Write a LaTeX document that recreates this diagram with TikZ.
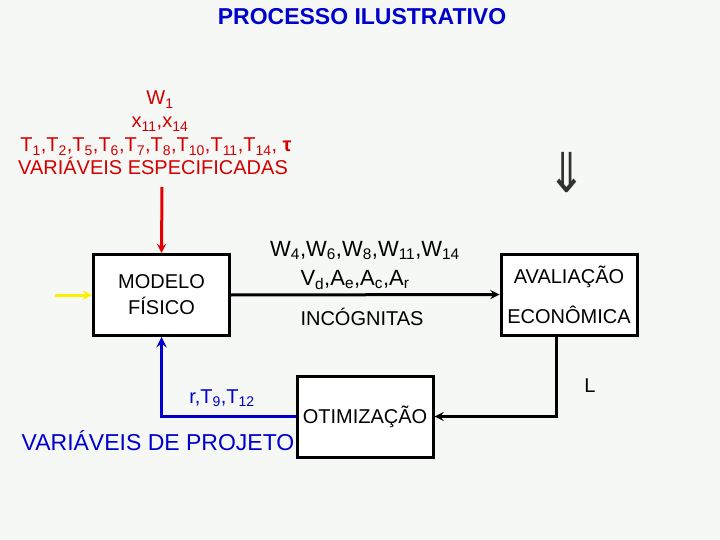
\documentclass[tikz,border=0pt]{standalone}
\usepackage{fontspec}
\setmainfont{Liberation Sans}
\newfontfamily\setasfont{DejaVu Sans}
\definecolor{fundo}{RGB}{246,248,246}
\definecolor{vermelho}{RGB}{212,0,0}
\definecolor{azul}{RGB}{0,0,205}
\definecolor{amarelo}{RGB}{250,240,0}
\definecolor{cinza}{RGB}{50,50,50}
\newcommand{\sbs}[1]{\textsubscript{#1}}
\tikzset{
  caixa/.style={draw, line width=3pt, fill=white, minimum width=136pt,
    minimum height=81pt, inner sep=0pt, align=center,
    font=\fontsize{20}{26}\selectfont},
  rotulo/.style={inner sep=0pt, anchor=base, font=\fontsize{20}{24}\selectfont},
  ligacao/.style={line width=3pt},
}
\begin{document}
\begin{tikzpicture}[x=1pt,y=-1pt,>=stealth]
   % fundo
   \useasboundingbox (0,0) rectangle (720,540);
   \fill[fundo] (0,0) rectangle (720,540);

   % titulo
   \node[rotulo, azul, font=\fontsize{23}{24}\selectfont\bfseries] (titulo) at (362,25) {PROCESSO ILUSTRATIVO};

   % variaveis especificadas
   \node[rotulo, vermelho] (w1) at (160,105) {W\sbs{1}};
   \node[rotulo, vermelho] (x11) at (160,128) {x\sbs{11},x\sbs{14}};
   \node[rotulo, vermelho] (tt) at (156,152) {T\sbs{1},T\sbs{2},T\sbs{5},T\sbs{6},T\sbs{7},T\sbs{8},T\sbs{10},T\sbs{11},T\sbs{14}, \textbf{τ}};
   \node[rotulo, vermelho] (espec) at (153,175) {VARIÁVEIS ESPECIFICADAS};

   % caixas
   \node[caixa] (modelo) at (161.5,295) {MODELO\\FÍSICO};
   \node[caixa] (avaliacao) at (569,294.5) {AVALIAÇÃO\\[14pt]ECONÔMICA};
   \node[caixa] (otimizacao) at (365,416.5) {OTIMIZAÇÃO};

   % incognitas
   \node[rotulo, font=\fontsize{22}{24}\selectfont] (ww) at (365,256) {W\sbs{4},W\sbs{6},W\sbs{8},W\sbs{11},W\sbs{14}};
   \node[rotulo, font=\fontsize{22}{24}\selectfont] (vd) at (355,285) {V\sbs{d},A\sbs{e},A\sbs{c},A\sbs{r}};
   \node[rotulo] (incog) at (362,325) {INCÓGNITAS};
   \node[rotulo] (ll) at (590,392) {L};
   \node[rotulo, cinza, font=\fontsize{44}{44}\setasfont] (seta) at (567,193) {\scalebox{1.05}[1.25]{⇓}};

   % variaveis de projeto
   \node[rotulo, azul] (rt) at (222,403) {r,T\sbs{9},T\sbs{12}};
   \node[rotulo, azul, font=\fontsize{23}{24}\selectfont] (projeto) at (158,450) {VARIÁVEIS DE PROJETO};

   % ligacoes
   \coordinate (entrada) at (55,295);
   \coordinate (cima) at (162,187);
   \draw[ligacao, amarelo, ->] (entrada) -- (modelo.west);
   \draw[ligacao, red!90!black, ->] (cima) -- (modelo.north);
   \draw[ligacao, ->] (modelo.east) -- (avaliacao.west);
   \draw[ligacao, ->] ([xshift=-13pt]avaliacao.south) |- (otimizacao.east);
   \draw[ligacao, azul, line width=3.5pt, ->] (otimizacao.west) -| (modelo.south);

\end{tikzpicture}
\end{document}
